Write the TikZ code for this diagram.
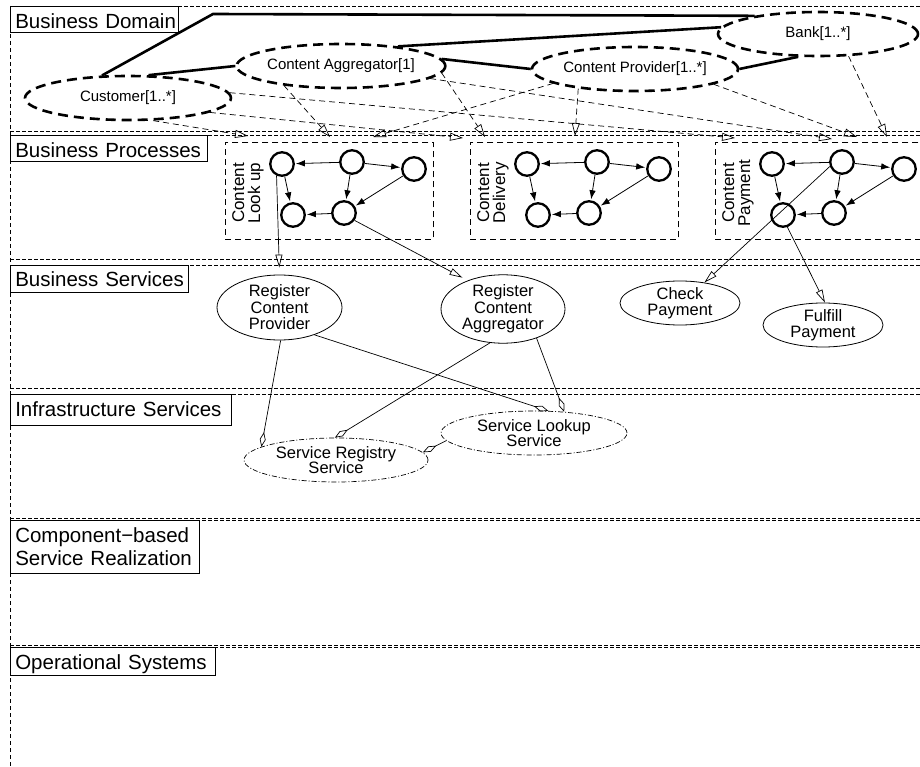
\documentclass[tikz,border=0pt]{standalone}
\usepackage{fontspec}
\setmainfont{Liberation Sans}
\usetikzlibrary{arrows.meta,shapes.geometric}

\newcommand\fsz[2]{\fontsize{#1}{#2}\selectfont}

\begin{document}
\begin{tikzpicture}[x=1pt,y=-1pt,
  lane/.style={line width=0.6pt, dash pattern=on 4pt off 2pt},
  laneedge/.style={line width=0.6pt, dash pattern=on 4pt off 3pt},
  lanelabel/.style={draw, line width=0.6pt, anchor=north west, inner xsep=5pt,
    inner ysep=1pt, align=left, font=\fsz{20.5}{23.3}},
  role/.style={ellipse, draw, line width=2.6pt, dash pattern=on 10pt off 6pt,
    inner sep=0pt, minimum height=44pt, font=\fsz{15}{17}},
  assoc/.style={line width=2.6pt},
  involve/.style={line width=0.7pt, dash pattern=on 6pt off 4pt,
    -{Triangle[open,length=13pt,width=8pt]}},
  procbox/.style={draw, line width=0.7pt, dash pattern=on 6pt off 4pt,
    rectangle, inner sep=0pt, anchor=north west,
    minimum width=208pt, minimum height=97pt},
  proclabel/.style={rotate=90, align=center, inner sep=0pt, font=\fsz{17}{16}},
  activity/.style={circle, draw, line width=2.3pt, minimum size=23.5pt, inner sep=0pt},
  flow/.style={line width=0.8pt, shorten >=1pt, -{Latex[length=9pt,width=6.5pt]}},
  svc/.style={ellipse, draw, line width=0.8pt, inner sep=0pt, align=center,
    font=\fsz{16.5}{16.5}},
  svcsmall/.style={svc, font=\fsz{16.5}{15.5}},
  infra/.style={ellipse, draw, line width=0.7pt,
    dash pattern=on 5pt off 2pt on 1pt off 2pt, inner sep=0pt, align=center,
    font=\fsz{16.5}{15.5}},
  realize/.style={line width=0.7pt, -{Triangle[open,length=13pt,width=7pt]}},
  uses/.style={line width=0.7pt, -{Diamond[open,length=15pt,width=6pt]}}
]
\useasboundingbox (0,0) rectangle (920,767);

% swimlane borders
\draw[laneedge] (10,6) -- (10,767);
\draw[lane] (10,6) -- (920,6);
\foreach \ya/\yb in {131.5/135.5, 259.5/265, 388/394, 518/520, 645/647} {
  \draw[lane] (10,\ya) -- (920,\ya);
  \draw[lane] (10,\yb) -- (920,\yb);
}

% lane titles
\node[lanelabel, text width=158pt, text height=21pt, text depth=3.5pt] (lDomain) at (10,6) {\mbox{Business Domain}};
\node[lanelabel, text width=187pt, text height=21pt, text depth=2.5pt] (lProc) at (10,135.5) {\mbox{Business Processes}};
\node[lanelabel, text width=168pt, text height=21pt, text depth=4.5pt] (lBus) at (10,264.5) {\mbox{Business Services}};
\node[lanelabel, text width=211pt, text height=21pt, text depth=7.5pt] (lInfra) at (10,394) {\mbox{Infrastructure Services}};
\node[lanelabel, text width=179pt] (lComp) at (10,520)
  {\rule{0pt}{21pt}\mbox{Component−based}\\\mbox{Service Realization}\rule[-6.5pt]{0pt}{0pt}};
\node[lanelabel, text width=195pt, text height=21pt, text depth=4.5pt] (lOps) at (10,647) {\mbox{Operational Systems}};

% business domain roles
\node[role, minimum width=206pt] (cust) at (128,98) {Customer[1..*]};
\node[role, minimum width=202pt] (agg)  at (341,66) {Content Aggregator[1]};
\node[role, minimum width=206pt] (prov) at (635,69) {Content Provider[1..*]};
\node[role, minimum width=200pt] (bank) at (818,34) {Bank[1..*]};

% associations between roles
\coordinate (bend) at (213,14);
\draw[assoc] (cust.139) -- (bend) -- (bank.164);
\draw[assoc] (cust.48) -- (agg.180);
\draw[assoc] (agg.19) -- (bank.176);
\draw[assoc] (agg.4) -- (prov.180);
\draw[assoc] (prov.0) -- (bank.229);

% business processes: box, title and activity graph
\foreach \p/\x/\lab in {lu/282/{Content\\Look up}, dl/527/{Content\\Delivery}, py/772/{Content\\Payment}} {
  \node[procbox] (\p box) at (\x-57,142) {};
  \node[proclabel] (\p lab) at (\x-34,193) {\lab};
  \node[activity] (\p1) at (\x,164) {};
  \node[activity] (\p2) at (\x+70,162) {};
  \node[activity] (\p3) at (\x+132,169) {};
  \node[activity] (\p4) at (\x+11,215) {};
  \node[activity] (\p5) at (\x+62,213) {};
  \draw[flow] (\p2) -- (\p1);
  \draw[flow] (\p2) -- (\p3);
  \draw[flow] (\p2) -- (\p5);
  \draw[flow] (\p3) -- (\p5);
  \draw[flow] (\p5) -- (\p4);
  \draw[flow] (\p1) -- (\p4);
}

% participation of roles in processes
\coordinate (tA) at (248,136);
\coordinate (tB) at (330,137);
\coordinate (tC) at (373,137);
\coordinate (tD) at (463,138);
\coordinate (tE) at (485,137);
\coordinate (tF) at (575,136);
\coordinate (tG) at (735,138);
\coordinate (tH) at (832,139);
\coordinate (tI) at (857,137);
\coordinate (tJ) at (887,137);
\draw[involve] (cust.-42) -- (tA);
\draw[involve] (agg.199)  -- (tB);
\draw[involve] (prov.190) -- (tC);
\draw[involve] (cust.-10) -- (tD);
\draw[involve] (agg.-4)   -- (tE);
\draw[involve] (prov.199) -- (tF);
\draw[involve] (cust.3)   -- (tG);
\draw[involve] (agg.-8)   -- (tH);
\draw[involve] (prov.-11) -- (tI);
\draw[involve] (bank.-36) -- (tJ);

% business services
\node[svc, minimum width=125pt, minimum height=65pt] (rcp) at (279.5,307.5) {Register\\Content\\Provider};
\node[svc, minimum width=124pt, minimum height=68pt] (rca) at (503,309) {Register\\Content\\Aggregator};
\node[svcsmall, minimum width=120pt, minimum height=44pt] (chk) at (680,303) {Check\\Payment};
\node[svcsmall, minimum width=120pt, minimum height=44pt] (ful) at (823,325) {Fulfill\\Payment};

\draw[realize, shorten >=7pt] (lu1.245) -- (rcp.north);
\draw[realize, shorten >=6pt] (lu5.325) -- (rca.141);
\draw[realize] (py2.200) -- (chk.40);
\draw[realize] (py4.290) -- (ful.85);

% infrastructure services
\node[infra, minimum width=184pt, minimum height=44pt] (srs) at (336,460) {Service Registry\\Service};
\node[infra, minimum width=186pt, minimum height=44pt] (sls) at (534,433) {Service Lookup\\Service};

\draw[uses] (rcp.272) -- (srs.170);
\draw[uses] (rcp.322) -- (sls.57);
\draw[uses] (rca.249) -- (srs.93);
\draw[uses] (rca.319) -- (sls.35);
\draw[uses] (sls.185) -- (srs.5);
\end{tikzpicture}
\end{document}
